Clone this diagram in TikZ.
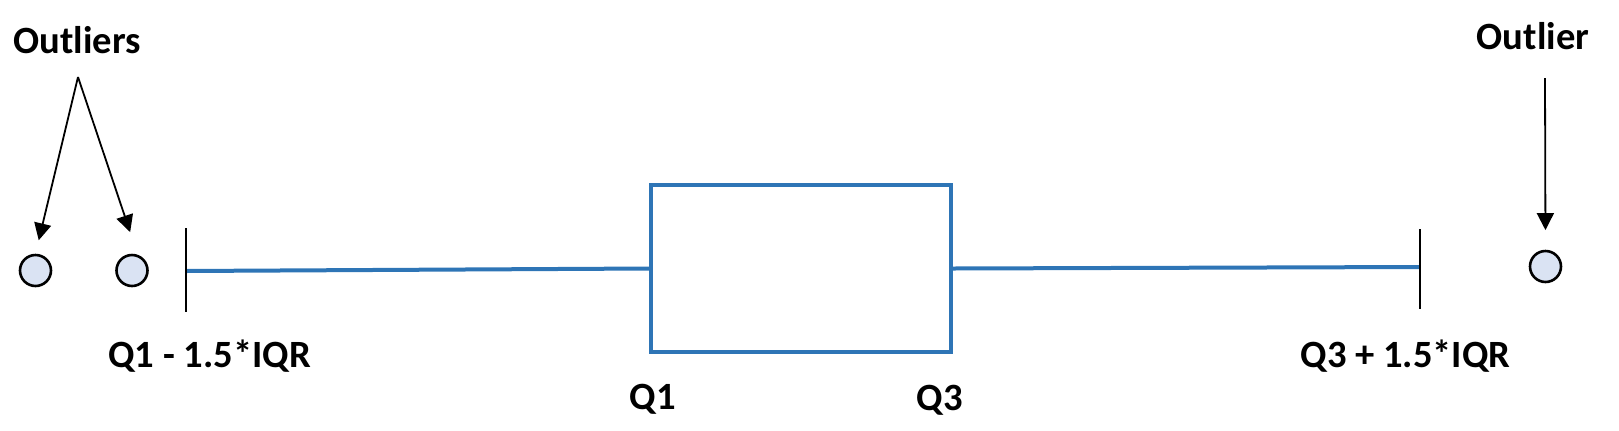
\documentclass[tikz,border=0pt]{standalone}
\usepackage{fontspec}
\setmainfont{Carlito}
\usetikzlibrary{arrows.meta}
\definecolor{blubox}{RGB}{46,117,182}
\definecolor{fillpunto}{RGB}{218,227,243}

\begin{document}
\begin{tikzpicture}[x = 0.5pt, y = -0.5pt,
    etichetta/.style = {font = \bfseries\fontsize{19.3}{21}\selectfont, inner sep = 0pt, anchor = base},
    punto/.style = {circle, draw = black, line width = 1.3pt, fill = fillpunto, minimum size = 15.5pt, inner sep = 0pt},
    freccia/.style = {-{Triangle[length = 8.5pt, width = 8.5pt]}, line width = 0.9pt}]
    % Riquadro della figura
    \useasboundingbox (0,0) rectangle (1619,430);
    % Scatola Q1-Q3
    \node[draw = blubox, line width = 2pt, minimum width = 150pt, minimum height = 83.5pt, inner sep = 0pt] (scatola) at (801,268.5) {};
    % Estremi dei baffi
    \coordinate (baffoSxA) at (186,228);
    \coordinate (baffoSxB) at (186,312);
    \coordinate (baffoSx) at (186,271);
    \coordinate (baffoDxA) at (1420,229);
    \coordinate (baffoDxB) at (1420,309);
    \coordinate (baffoDx) at (1420,267);
    % Baffi
    \draw[blubox, line width = 2pt] (baffoSx) -- (scatola.west);
    \draw[blubox, line width = 2pt] (scatola.east) -- (baffoDx);
    \draw[line width = 1.3pt] (baffoSxA) -- (baffoSxB);
    \draw[line width = 1.3pt] (baffoDxA) -- (baffoDxB);
    % Punti anomali
    \node[punto] (out1) at (35.5,270.5) {};
    \node[punto] (out2) at (132,270.5) {};
    \node[punto] (out3) at (1545.5,266.5) {};
    % Etichette
    \node[etichetta] (lblOutliers) at (77,53) {Outliers};
    \node[etichetta] (lblOutlier) at (1533,49) {Outlier};
    \node[etichetta] (lblMin) at (209.5,367) {Q1 - 1.5*IQR};
    \node[etichetta] (lblMax) at (1405.5,367) {Q3 + 1.5*IQR};
    \node[etichetta] (lblQ1) at (653,409) {Q1};
    \node[etichetta] (lblQ3) at (940,410) {Q3};
    % Frecce verso i punti anomali
    \coordinate (apiceSx) at (78,77);
    \coordinate (apiceDx) at (1545,78);
    \draw[freccia, shorten > = 6.9pt] (apiceSx) -- (out1.north);
    \draw[freccia, shorten > = 11.9pt] (apiceSx) -- (out2.70);
    \draw[freccia, shorten > = 9.8pt] (apiceDx) -- (out3.north);
\end{tikzpicture}
\end{document}
